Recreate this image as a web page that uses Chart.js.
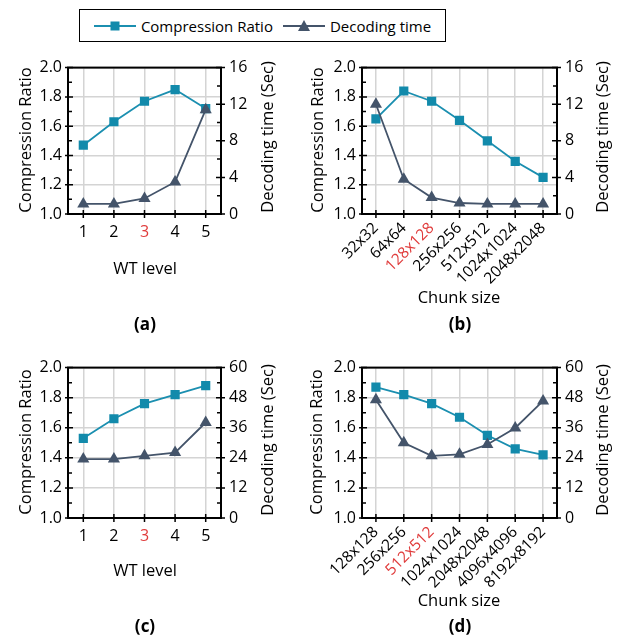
<!DOCTYPE html>
<html lang="en">
<head>
  <meta charset="UTF-8">
  <title>Compression Ratio and Decoding time</title>
  <script src="https://cdn.jsdelivr.net/npm/chart.js"></script>
  <style>
    body { margin: 0; background: #fff; font-family: 'Open Sans', sans-serif; color: #000; }
    #page { position: relative; width: 623px; height: 638px; overflow: hidden; }
    canvas { position: absolute; }
    .lbl { position: absolute; white-space: nowrap; transform: translate(-50%, -50%); font-size: 16.5px; line-height: 1; }
    .rot { transform: translate(-50%, -50%) rotate(-90deg); }
    .panel { font-weight: bold; font-size: 17px; }
    #legend {
      position: absolute; left: 79px; top: 9px; width: 365px; height: 31px;
      border: 1px solid #000; display: flex; align-items: center; justify-content: center;
      font-size: 15px;
    }
    #legend span { margin: 0 10px 0 5px; }
    #legend svg { display: block; }
  </style>
</head>
<body>
<div id="page">
  <div id="legend">
    <svg width="42" height="14"><line x1="0" y1="7" x2="42" y2="7" stroke="#1b8fb0" stroke-width="2"/><rect x="16.5" y="2.5" width="9" height="9" fill="#128aab"/></svg>
    <span>Compression Ratio</span>
    <svg width="42" height="14"><line x1="0" y1="7" x2="42" y2="7" stroke="#44546a" stroke-width="2"/><polygon points="21,1 27,12 15,12" fill="#44546a"/></svg>
    <span style="margin-right:0">Decoding time</span>
  </div>

  <canvas id="chartA" width="300" height="235" style="left:0;top:50px"></canvas>
  <canvas id="chartB" width="323" height="280" style="left:300px;top:50px"></canvas>
  <canvas id="chartC" width="300" height="235" style="left:0;top:350px"></canvas>
  <canvas id="chartD" width="323" height="280" style="left:300px;top:350px"></canvas>

  <div class="lbl rot" style="left:25px;top:140px">Compression Ratio</div>
  <div class="lbl rot" style="left:267px;top:137px">Decoding time (Sec)</div>
  <div class="lbl" style="left:145px;top:268px">WT level</div>
  <div class="lbl panel" style="left:145px;top:323px">(a)</div>

  <div class="lbl rot" style="left:317px;top:140px">Compression Ratio</div>
  <div class="lbl rot" style="left:602px;top:137px">Decoding time (Sec)</div>
  <div class="lbl" style="left:459px;top:297px">Chunk size</div>
  <div class="lbl panel" style="left:460px;top:323px">(b)</div>

  <div class="lbl rot" style="left:25px;top:442px">Compression Ratio</div>
  <div class="lbl rot" style="left:267px;top:440px">Decoding time (Sec)</div>
  <div class="lbl" style="left:145px;top:570px">WT level</div>
  <div class="lbl panel" style="left:145px;top:625px">(c)</div>

  <div class="lbl rot" style="left:316px;top:442px">Compression Ratio</div>
  <div class="lbl rot" style="left:602px;top:440px">Decoding time (Sec)</div>
  <div class="lbl" style="left:459px;top:600px">Chunk size</div>
  <div class="lbl panel" style="left:460px;top:625px">(d)</div>
</div>

<script>
  // categories
  const wtLevels = ['1', '2', '3', '4', '5'];
  const chunksB = ['32x32', '64x64', '128x128', '256x256', '512x512', '1024x1024', '2048x2048'];
  const chunksD = ['128x128', '256x256', '512x512', '1024x1024', '2048x2048', '4096x4096', '8192x8192'];

  // (a) WT level, small data
  const ratioA = [1.47, 1.63, 1.77, 1.85, 1.72];
  const timeA = [1.1, 1.1, 1.7, 3.5, 11.4];
  // (b) chunk size, small data
  const ratioB = [1.65, 1.84, 1.77, 1.64, 1.50, 1.36, 1.25];
  const timeB = [12.0, 3.8, 1.8, 1.2, 1.1, 1.1, 1.1];
  // (c) WT level, large data
  const ratioC = [1.53, 1.66, 1.76, 1.82, 1.88];
  const timeC = [23.5, 23.5, 24.8, 26.1, 38.1];
  // (d) chunk size, large data
  const ratioD = [1.87, 1.82, 1.76, 1.67, 1.55, 1.46, 1.42];
  const timeD = [47.2, 30.0, 24.8, 25.4, 29.3, 35.9, 46.7];

  const ratioColor = '#1b8fb0';
  const ratioFill = '#128aab';
  const timeColor = '#44546a';
  const red = '#e03c3c';

  Chart.defaults.font.family = "'Open Sans', sans-serif";
  Chart.defaults.font.size = 16;
  Chart.defaults.color = '#000';

  // black frame plus small tick marks, placed through the chart's scales
  const frameTicks = {
    id: 'frameTicks',
    afterDraw(chart) {
      const { ctx, chartArea: a, scales } = chart;
      ctx.save();
      ctx.strokeStyle = '#000';
      ctx.lineWidth = 1.5;
      ctx.beginPath();
      const yl = scales.y, yr = scales.y1, x = scales.x;
      yl.ticks.forEach((t, i) => {
        const p = yl.getPixelForValue(t.value);
        ctx.moveTo(a.left - 3, p); ctx.lineTo(a.left + 5, p);
        if (i < yl.ticks.length - 1) {
          const m = yl.getPixelForValue((t.value + yl.ticks[i + 1].value) / 2);
          ctx.moveTo(a.left, m); ctx.lineTo(a.left + 4, m);
        }
      });
      yr.ticks.forEach((t, i) => {
        const p = yr.getPixelForValue(t.value);
        ctx.moveTo(a.right - 5, p); ctx.lineTo(a.right + 4, p);
        if (i < yr.ticks.length - 1) {
          const m = yr.getPixelForValue((t.value + yr.ticks[i + 1].value) / 2);
          ctx.moveTo(a.right, m); ctx.lineTo(a.right - 4, m);
        }
      });
      x.ticks.forEach((t, i) => {
        const p = x.getPixelForTick(i);
        ctx.moveTo(p, a.bottom + 4); ctx.lineTo(p, a.bottom - 4);
      });
      ctx.stroke();
      ctx.lineWidth = 2;
      ctx.strokeRect(a.left, a.top, a.width, a.height);
      ctx.restore();
    }
  };

  function makeChart(id, labels, ratio, time, opts) {
    const ctx = document.getElementById(id).getContext('2d');
    return new Chart(ctx, {
      type: 'line',
      data: {
        labels: labels,
        datasets: [
          {
            label: 'Compression Ratio',
            data: ratio,
            yAxisID: 'y',
            borderColor: ratioColor,
            backgroundColor: ratioFill,
            borderWidth: 1.8,
            pointStyle: 'rect',
            pointRadius: 6.5,
            pointBorderWidth: 0,
            order: 1
          },
          {
            label: 'Decoding time',
            data: time,
            yAxisID: 'y1',
            borderColor: timeColor,
            backgroundColor: timeColor,
            borderWidth: 1.8,
            pointStyle: 'triangle',
            pointRadius: 7,
            pointBorderWidth: 0,
            order: 0
          }
        ]
      },
      options: {
        responsive: false,
        animation: false,
        layout: { padding: { top: opts.padTop, left: 0, right: 0, bottom: 0 } },
        plugins: { legend: { display: false }, tooltip: { enabled: false } },
        scales: {
          x: {
            offset: true,
            grid: { offset: false, color: '#d4d4d4', lineWidth: 1.5, drawTicks: false },
            border: { display: false },
            ticks: {
              autoSkip: false,
              padding: opts.rotate ? 5 : 9,
              minRotation: opts.rotate ? 45 : 0,
              maxRotation: opts.rotate ? 45 : 0,
              font: { size: opts.rotate ? 15.5 : 16 },
              color: (c) => c.index === 2 ? red : '#000'
            },
            afterFit: (s) => { s.height = opts.xHeight; }
          },
          y: {
            position: 'left',
            min: 1.0,
            max: 2.0,
            grid: { color: '#d4d4d4', lineWidth: 1.5, drawTicks: false },
            border: { display: false },
            ticks: { stepSize: 0.2, padding: 6, callback: (v) => v.toFixed(1) },
            afterFit: (s) => { s.width = opts.leftW; }
          },
          y1: {
            position: 'right',
            min: 0,
            max: opts.timeMax,
            grid: { display: false, drawTicks: false },
            border: { display: false },
            ticks: { stepSize: opts.timeStep, padding: 8 },
            afterFit: (s) => { s.width = opts.rightW; }
          }
        }
      },
      plugins: [frameTicks]
    });
  }

  makeChart('chartA', wtLevels, ratioA, timeA,
    { padTop: 13, leftW: 68, rightW: 79, xHeight: 71, timeMax: 16, timeStep: 4, rotate: false });
  makeChart('chartB', chunksB, ratioB, timeB,
    { padTop: 13, leftW: 62, rightW: 66, xHeight: 116, timeMax: 16, timeStep: 4, rotate: true });
  makeChart('chartC', wtLevels, ratioC, timeC,
    { padTop: 15, leftW: 68, rightW: 79, xHeight: 67, timeMax: 60, timeStep: 12, rotate: false });
  makeChart('chartD', chunksD, ratioD, timeD,
    { padTop: 15, leftW: 62, rightW: 66, xHeight: 112, timeMax: 60, timeStep: 12, rotate: true });
</script>
</body>
</html>
